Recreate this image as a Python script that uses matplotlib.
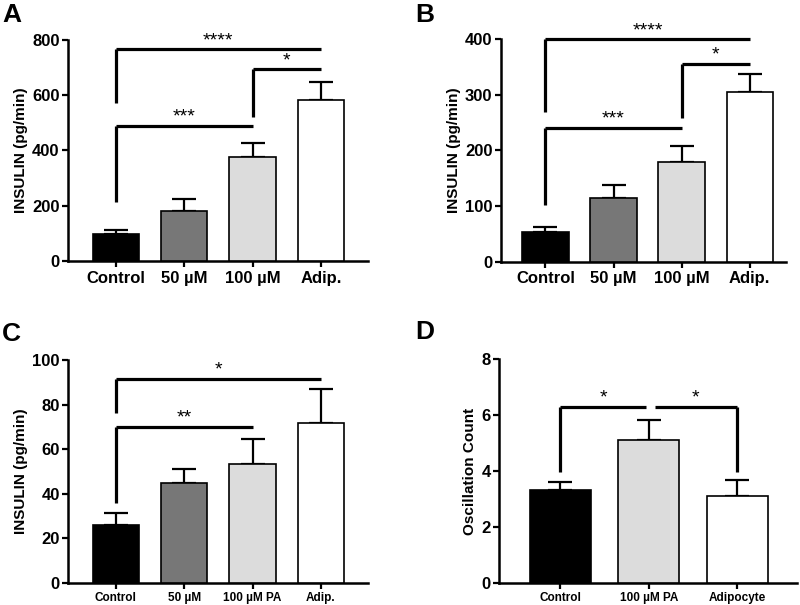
import matplotlib.pyplot as plt

plt.rcParams['font.family'] = ['Liberation Sans', 'DejaVu Sans']
plt.rcParams['font.weight'] = 'bold'

# panel A
a_labels = ['Control', '50 µM', '100 µM', 'Adip.']
a_vals = [97, 182, 375, 583]
a_err = [15, 41, 53, 64]
a_sig = [(0, 3, 766, 572, '****'), (0, 2, 489, 215, '***'), (2, 3, 695, 522, '*')]

# panel B
b_labels = ['Control', '50 µM', '100 µM', 'Adip.']
b_vals = [54, 115, 180, 305]
b_err = [9, 23, 28, 33]
b_sig = [(0, 3, 400, 269, '****'), (0, 2, 241, 102, '***'), (2, 3, 356, 258, '*')]

# panel C
c_labels = ['Control', '50 µM', '100 µM PA', 'Adip.']
c_vals = [25.9, 44.9, 53.3, 71.8]
c_err = [5.3, 6.0, 11.2, 15.0]
c_sig = [(0, 3, 91.6, 76, '*'), (0, 2, 70, 36, '**')]

# panel D
d_labels = ['Control', '100 µM PA', 'Adipocyte']
d_vals = [3.32, 5.11, 3.1]
d_err = [0.28, 0.72, 0.58]

colors4 = ['black', '#777777', '#dcdcdc', 'white']
colors3 = ['black', '#dcdcdc', 'white']

fig = plt.figure(figsize=(8, 6.05), dpi=100)


def panel(rect, labels, vals, err, cols, ymax, yticks, xlim, ylabel,
          tick_fs, xfs, width):
    ax = fig.add_axes(rect)
    x = list(range(len(vals)))
    ax.bar(x, vals, width=width, color=cols, edgecolor='black',
           linewidth=1.2, zorder=3)
    ax.errorbar(x, vals, yerr=[[0] * len(vals), err], fmt='none',
                ecolor='black', elinewidth=1.6, capsize=8.3,
                capthick=1.6, zorder=2)
    ax.set_xlim(*xlim)
    ax.set_ylim(0, ymax)
    ax.set_yticks(yticks)
    ax.set_xticks(x)
    ax.set_xticklabels(labels, fontsize=xfs, fontweight='bold')
    ax.tick_params(axis='y', labelsize=tick_fs, width=1.6, length=4, pad=2)
    ax.tick_params(axis='x', width=1.6, length=4, pad=3)
    for lab in ax.get_yticklabels():
        lab.set_fontweight('bold')
    for s in ['top', 'right']:
        ax.spines[s].set_visible(False)
    for s in ['left', 'bottom']:
        ax.spines[s].set_linewidth(1.8)
    ax.set_ylabel(ylabel, fontsize=11, fontweight='bold', labelpad=3)
    return ax


def bracket(ax, x0, x1, y, leg, text, leg_at=None, star_x=None):
    if leg_at is None:
        leg_at = x0
    ax.plot([x0, x1], [y, y], color='black', lw=2.3, clip_on=False,
            solid_capstyle='butt', zorder=4)
    ax.plot([leg_at, leg_at], [y, leg], color='black', lw=2.3,
            clip_on=False, solid_capstyle='butt', zorder=4)
    if star_x is None:
        star_x = (x0 + x1) / 2
    ax.annotate(text, (star_x, y), xytext=(0, 0), textcoords='offset points',
                ha='center', va='bottom', fontsize=14, fontweight='normal',
                annotation_clip=False)


axA = panel([0.085, 0.5686, 0.375, 0.3653], a_labels, a_vals, a_err, colors4,
            800, [0, 200, 400, 600, 800], (-0.70, 3.69), 'INSULIN (pg/min)',
            12, 12, 0.68)
for s in a_sig:
    bracket(axA, *s)

axB = panel([0.626, 0.5674, 0.357, 0.368], b_labels, b_vals, b_err, colors4,
            400, [0, 100, 200, 300, 400], (-0.656, 3.54), 'INSULIN (pg/min)',
            12, 12, 0.68)
for s in b_sig:
    bracket(axB, *s)

axC = panel([0.085, 0.0369, 0.375, 0.368], c_labels, c_vals, c_err, colors4,
            100, [0, 20, 40, 60, 80, 100], (-0.70, 3.69), 'INSULIN (pg/min)',
            12, 8.5, 0.68)
for s in c_sig:
    bracket(axC, *s)

axD = panel([0.624, 0.0369, 0.372, 0.369], d_labels, d_vals, d_err, colors3,
            8, [0, 2, 4, 6, 8], (-0.69, 2.67), 'Oscillation Count',
            12, 8.5, 0.69)
bracket(axD, 0, 0.966, 6.3, 3.95, '*', leg_at=0, star_x=0.49)
bracket(axD, 1.07, 2, 6.3, 3.97, '*', leg_at=2, star_x=1.53)

for lab, (px, py) in zip('ABCD', [(2, 3), (415, 3), (2, 322), (415, 320)]):
    fig.text(px / 800, 1 - py / 605, lab, fontsize=19, fontweight='bold',
             ha='left', va='top')

fig.savefig('out.png', dpi=100)
